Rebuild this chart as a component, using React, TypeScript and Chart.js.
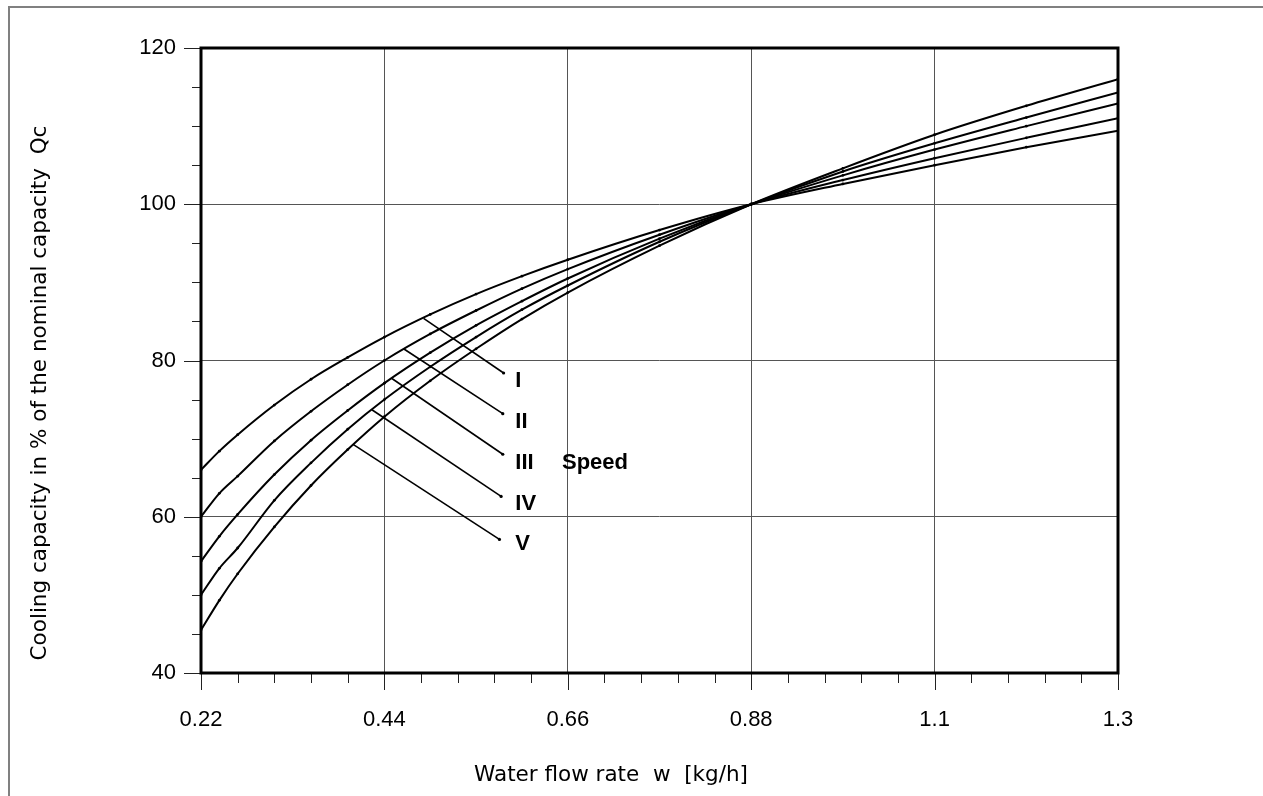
import React, { useEffect, useRef } from 'react';
import { Chart, registerables } from 'chart.js';

Chart.register(...registerables);

// Water flow rate (x) sample positions
const xValues = [0.22, 0.242, 0.264, 0.308, 0.352, 0.396, 0.44, 0.495, 0.55, 0.605, 0.66, 0.77, 0.88, 0.99, 1.1, 1.21, 1.32];
// Cooling capacity (% of nominal) per fan speed
const speedI = [66, 68.4, 70.5, 74.3, 77.6, 80.4, 83.0, 85.9, 88.5, 90.8, 92.9, 96.7, 100, 102.6, 105.0, 107.3, 109.4];
const speedII = [60, 63.0, 65.2, 69.7, 73.5, 76.9, 80.0, 83.4, 86.4, 89.2, 91.7, 96.1, 100, 103.1, 105.9, 108.5, 111.0];
const speedIII = [54.3, 57.5, 60.3, 65.4, 69.8, 73.6, 77.1, 81.0, 84.5, 87.6, 90.5, 95.6, 100, 103.7, 107.0, 110.0, 112.9];
const speedIV = [50, 53.4, 56.0, 62.1, 66.9, 71.2, 75.0, 79.2, 83.0, 86.5, 89.6, 95.2, 100, 104.2, 107.8, 111.1, 114.3];
const speedV = [45.5, 49.3, 52.7, 58.7, 64.0, 68.6, 72.8, 77.4, 81.5, 85.3, 88.7, 94.7, 100, 104.6, 108.9, 112.6, 116.0];

const speedNames = ['I', 'II', 'III', 'IV', 'V'];
const speedTitle = 'Speed';

// Leader lines from each curve to its label (data coordinates)
const leaderStartX = [0.487, 0.463, 0.449, 0.425, 0.402];
const leaderStartY = [85.4, 81.5, 77.7, 73.7, 69.3];
const leaderEndX = [0.583, 0.582, 0.582, 0.58, 0.578];
const leaderEndY = [78.4, 73.2, 68.0, 62.6, 57.1];
const labelX = [0.597, 0.597, 0.597, 0.597, 0.597];
const labelY = [77.4, 72.2, 66.9, 61.7, 56.5];
const speedTitleX = 0.653;
const speedTitleY = 66.9;

// Axis ticks
const xTickValues = [0.22, 0.44, 0.66, 0.88, 1.1, 1.32];
const xTickLabels = ['0.22', '0.44', '0.66', '0.88', '1.1', '1.3'];
const xMinorStep = 0.044;
const yTickValues = [40, 60, 80, 100, 120];
const yMinorStep = 5;

const xTitle = 'Water flow rate  w  [kg/h]';
const yTitle = 'Cooling capacity in % of the nominal capacity  Qc';

const FONT = '"Liberation Sans", Arial, sans-serif';
const TITLE_FONT = '"DejaVu Sans", "Liberation Sans", sans-serif';

export default function App() {
  const ref = useRef<HTMLCanvasElement>(null);

  useEffect(() => {
    const canvas = ref.current;
    if (!canvas) return;

    const series = [speedI, speedII, speedIII, speedIV, speedV];
    const datasets: any[] = series.map((s, i) => ({
      label: speedNames[i],
      data: xValues.map((x, j) => ({ x, y: s[j] })),
      borderColor: '#000',
      backgroundColor: '#000',
      borderWidth: 2,
      pointRadius: 1.4,
      pointBorderWidth: 0,
      pointBackgroundColor: '#000',
      cubicInterpolationMode: 'monotone',
      fill: false,
    }));
    speedNames.forEach((n, i) => {
      datasets.push({
        label: 'leader ' + n,
        data: [
          { x: leaderStartX[i], y: leaderStartY[i] },
          { x: leaderEndX[i], y: leaderEndY[i] },
        ],
        borderColor: '#000',
        borderWidth: 1.6,
        pointRadius: [0, 1.6],
        pointBorderWidth: 0,
        pointBackgroundColor: '#000',
        tension: 0,
        fill: false,
      });
    });

    const framePlugin = {
      id: 'frame',
      beforeDraw(chart: any) {
        const ctx = chart.ctx;
        ctx.save();
        ctx.fillStyle = '#fff';
        ctx.fillRect(0, 0, chart.width, chart.height);
        ctx.strokeStyle = '#808080';
        ctx.lineWidth = 2;
        ctx.beginPath();
        ctx.moveTo(9, chart.height);
        ctx.lineTo(9, 7);
        ctx.lineTo(chart.width, 7);
        ctx.stroke();
        ctx.restore();
      },
      afterDraw(chart: any) {
        const ctx = chart.ctx;
        const a = chart.chartArea;
        const xs = chart.scales.x;
        const ys = chart.scales.y;
        ctx.save();
        // minor / major ticks
        ctx.strokeStyle = '#222';
        ctx.lineWidth = 1;
        ctx.beginPath();
        for (let v = xs.min; v <= xs.max + 1e-9; v += xMinorStep) {
          const major = xTickValues.some((t) => Math.abs(t - v) < 1e-6);
          const px = Math.round(xs.getPixelForValue(v)) + 0.5;
          ctx.moveTo(px, a.bottom);
          ctx.lineTo(px, a.bottom + (major ? 17 : 10));
        }
        for (let v = ys.min; v <= ys.max + 1e-9; v += yMinorStep) {
          const major = yTickValues.some((t) => Math.abs(t - v) < 1e-6);
          const py = Math.round(ys.getPixelForValue(v)) + 0.5;
          ctx.moveTo(a.left, py);
          ctx.lineTo(a.left - (major ? 17 : 9), py);
        }
        ctx.stroke();
        // plot frame
        ctx.strokeStyle = '#000';
        ctx.lineWidth = 3;
        ctx.strokeRect(a.left, a.top, a.right - a.left, a.bottom - a.top);

        // speed labels
        ctx.fillStyle = '#000';
        ctx.font = 'bold 22px ' + FONT;
        ctx.textAlign = 'left';
        ctx.textBaseline = 'middle';
        speedNames.forEach((n, i) => {
          ctx.fillText(n, xs.getPixelForValue(labelX[i]), ys.getPixelForValue(labelY[i]));
        });
        ctx.fillText(speedTitle, xs.getPixelForValue(speedTitleX), ys.getPixelForValue(speedTitleY));

        // axis titles
        ctx.font = '21.5px ' + TITLE_FONT;
        ctx.textAlign = 'center';
        ctx.textBaseline = 'middle';
        ctx.fillText(xTitle, 611, 775);
        ctx.translate(40, 393);
        ctx.rotate(-Math.PI / 2);
        ctx.fillText(yTitle, 0, 0);
        ctx.restore();
      },
    };

    const chart = new Chart(canvas, {
      type: 'line',
      data: { datasets },
      options: {
        responsive: false,
        animation: false,
        devicePixelRatio: 1,
        layout: { padding: { top: 48, right: 145, left: 0, bottom: 0 } },
        plugins: {
          legend: { display: false },
          tooltip: { enabled: false },
          title: { display: false },
        },
        scales: {
          x: {
            type: 'linear',
            min: 0.22,
            max: 1.32,
            afterFit: (s: any) => {
              s.height = 123;
            },
            afterBuildTicks: (s: any) => {
              s.ticks = xTickValues.map((v) => ({ value: v }));
            },
            ticks: {
              autoSkip: false,
              maxRotation: 0,
              padding: 34,
              color: '#000',
              font: { family: FONT, size: 22 },
              callback: (v: any) => {
                const i = xTickValues.findIndex((t) => Math.abs(t - Number(v)) < 1e-6);
                return i >= 0 ? xTickLabels[i] : '';
              },
            },
            grid: { color: '#555', lineWidth: 1, drawTicks: false },
            border: { display: false },
          },
          y: {
            type: 'linear',
            min: 40,
            max: 120,
            afterFit: (s: any) => {
              s.width = 201;
            },
            afterBuildTicks: (s: any) => {
              s.ticks = yTickValues.map((v) => ({ value: v }));
            },
            ticks: {
              padding: 25,
              color: '#000',
              font: { family: FONT, size: 22 },
            },
            grid: { color: '#555', lineWidth: 1, drawTicks: false },
            border: { display: false },
          },
        },
      },
      plugins: [framePlugin],
    });

    return () => chart.destroy();
  }, []);

  return (
    <canvas
      ref={ref}
      width={1263}
      height={796}
      style={{ position: 'absolute', left: 0, top: 0, width: 1263, height: 796 }}
    />
  );
}
